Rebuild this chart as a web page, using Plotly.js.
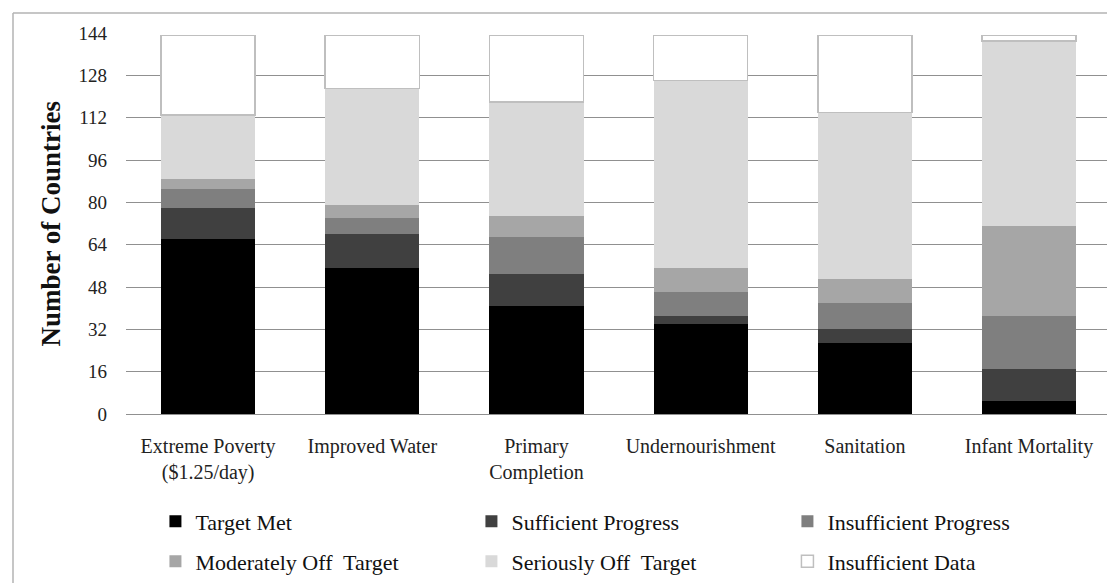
<!DOCTYPE html>
<html><head><meta charset="utf-8">
<script src="https://cdn.plot.ly/plotly-3.0.1.min.js"></script>
<style>html,body{margin:0;padding:0;background:#fff;} #chart{width:1107px;height:583px;}</style>
</head><body><div id="chart"></div>
<script>
const categories = ['Extreme Poverty<br>($1.25/day)', 'Improved Water', 'Primary<br>Completion', 'Undernourishment', 'Sanitation', 'Infant Mortality'];
const seriesNames = ['Target Met', 'Sufficient Progress', 'Insufficient Progress', 'Moderately Off  Target', 'Seriously Off  Target', 'Insufficient Data'];
const targetMet = [66, 55, 41, 34, 27, 5];
const sufficientProgress = [12, 13, 12, 3, 5, 12];
const insufficientProgress = [7, 6, 14, 9, 10, 20];
const moderatelyOffTarget = [4, 5, 8, 9, 9, 34];
const seriouslyOffTarget = [24, 44, 43, 71, 63, 70];
const insufficientData = [30, 20, 25, 17, 29, 2];
const yTickValues = [0, 16, 32, 48, 64, 80, 96, 112, 128, 144];

const seriesValues = [targetMet, sufficientProgress, insufficientProgress, moderatelyOffTarget, seriouslyOffTarget, insufficientData];
const colors = ['#000000', '#404040', '#7f7f7f', '#a6a6a6', '#d9d9d9', '#ffffff'];
const lineColors = ['#000000', '#404040', '#7f7f7f', '#a6a6a6', '#d9d9d9', '#bfbfbf'];
const lineWidths = [0, 0, 0, 0, 0, 1.5];

const FONT = '"Liberation Serif", "Times New Roman", serif';

const traces = seriesValues.map((vals, i) => ({
  type: 'bar',
  name: seriesNames[i],
  x: categories,
  y: vals,
  marker: {color: colors[i], line: {color: lineColors[i], width: lineWidths[i]}},
  legend: i < 3 ? 'legend' : 'legend2',
  hoverinfo: 'name+y'
}));

const legendCommon = {
  orientation: 'h',
  traceorder: 'normal',
  font: {family: FONT, size: 22, color: '#111'},
  bgcolor: 'rgba(0,0,0,0)',
  entrywidth: 271,
  xanchor: 'left',
  yanchor: 'middle',
  itemwidth: 30
};

const layout = {
  width: 1107,
  height: 583,
  margin: {l: 126, r: 0, t: 33, b: 169},
  paper_bgcolor: '#ffffff',
  plot_bgcolor: '#ffffff',
  barmode: 'stack',
  bargap: 0.427,
  font: {family: FONT, size: 20, color: '#222'},
  showlegend: true,
  xaxis: {
    type: 'category',
    range: [-0.5, 5.475],
    showgrid: false,
    showline: false,
    zeroline: false,
    ticks: '',
    tickfont: {family: FONT, size: 20, color: '#222'},
    ticklabelstandoff: 18,
    automargin: false,
    fixedrange: true
  },
  yaxis: {
    range: [0, 144],
    tickvals: yTickValues,
    ticktext: yTickValues.map(String),
    showgrid: true,
    gridcolor: '#909090',
    gridwidth: 1,
    zeroline: true,
    zerolinecolor: '#909090',
    zerolinewidth: 1,
    showline: false,
    ticks: '',
    tickfont: {family: FONT, size: 19, color: '#222'},
    ticklabelstandoff: 18,
    automargin: false,
    fixedrange: true
  },
  legend: Object.assign({}, legendCommon, {x: 0.03, y: -0.282}),
  legend2: Object.assign({}, legendCommon, {x: 0.03, y: -0.387}),
  annotations: [{
    text: '<b>Number of Countries</b>',
    xref: 'paper', yref: 'paper',
    x: (50 - 126) / 981, y: 0.5,
    xanchor: 'center', yanchor: 'middle',
    textangle: -90,
    showarrow: false,
    font: {family: FONT, size: 27, color: '#111'}
  }],
  shapes: [
    {type: 'line', xref: 'paper', yref: 'paper', x0: (13 - 126) / 981, x1: (13 - 126) / 981, y0: 1 + 20 / 381, y1: -0.6, line: {color: '#b3b3b3', width: 1.5}},
    {type: 'line', xref: 'paper', yref: 'paper', x0: (13 - 126) / 981, x1: 1.05, y0: 1 + 20 / 381, y1: 1 + 20 / 381, line: {color: '#b3b3b3', width: 1.5}}
  ]
};

Plotly.newPlot('chart', traces, layout, {displayModeBar: false, staticPlot: true});
</script>
</body></html>
